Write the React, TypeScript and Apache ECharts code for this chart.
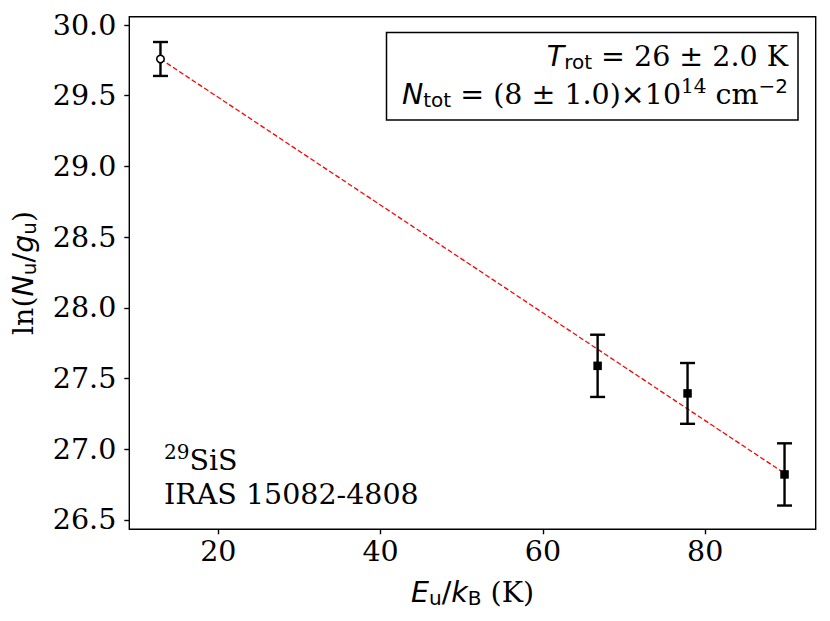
import React, { useEffect, useRef } from "react";
import * as echarts from "echarts";

// open-circle point
const circleX = [12.88];
const circleY = [29.76];
const circleErr = [0.12];
// filled-square points
const squareX = [66.74, 77.82, 89.77];
const squareY = [27.59, 27.395, 26.822];
const squareErr = [0.22, 0.215, 0.22];
// fit line end points
const fitX = [12.88, 89.77];
const fitY = [29.76, 26.83];
// tick labels
const xTicks = [20, 40, 60, 80];
const yTicks = [26.5, 27.0, 27.5, 28.0, 28.5, 29.0, 29.5, 30.0];

const SERIF = "DejaVu Serif";
const SANS = "DejaVu Sans";
const FS = 28.5;
const SFS = 20;

export default function App() {
  const ref = useRef<HTMLDivElement>(null);
  useEffect(() => {
    const chart = echarts.init(ref.current!, null, { renderer: "svg" });
    const errData = [
      ...circleX.map((x, i) => [x, circleY[i], circleErr[i]]),
      ...squareX.map((x, i) => [x, squareY[i], squareErr[i]]),
    ];
    const rich = {
      s: { fontFamily: SERIF, fontSize: FS, color: "#000" },
      i: { fontFamily: SANS, fontStyle: "italic", fontSize: FS, color: "#000" },
      m: { fontFamily: SANS, fontSize: FS, color: "#000" },
      sub: { fontFamily: SANS, fontSize: SFS, color: "#000", padding: [12, 0, 0, 0] },
      sup: { fontFamily: SERIF, fontSize: SFS, color: "#000", padding: [0, 0, 16, 0] },
      supm: { fontFamily: SANS, fontSize: SFS, color: "#000", padding: [0, 0, 16, 0] },
    };
    chart.setOption({
      animation: false,
      backgroundColor: "#fff",
      grid: {
        left: 129.3,
        right: 14.3,
        top: 16.7,
        bottom: 91.7,
        show: true,
        borderColor: "#000",
        borderWidth: 1.4,
        backgroundColor: "transparent",
      },
      xAxis: {
        type: "value",
        min: 9.04,
        max: 93.61,
        splitLine: { show: false },
        axisLine: { show: false },
        axisTick: {
          show: true,
          length: 5,
          inside: false,
          customValues: xTicks,
          lineStyle: { color: "#000", width: 1.4 },
        },
        axisLabel: {
          customValues: xTicks,
          fontFamily: SERIF,
          fontSize: FS,
          color: "#000",
          margin: 8,
          formatter: (v: number) => String(v),
        },
        name: "{i|E}{sub|u}{m|/}{i|k}{sub|B}{s| (K)}",
        nameLocation: "middle",
        nameGap: 47,
        nameTextStyle: { rich },
      },
      yAxis: {
        type: "value",
        min: 26.434,
        max: 30.059,
        splitLine: { show: false },
        axisLine: { show: false },
        axisTick: {
          show: true,
          length: 5,
          inside: false,
          customValues: yTicks,
          lineStyle: { color: "#000", width: 1.4 },
        },
        axisLabel: {
          customValues: yTicks,
          fontFamily: SERIF,
          fontSize: FS,
          color: "#000",
          margin: 13,
          formatter: (v: number) => v.toFixed(1),
        },
        name: "{s|ln(}{i|N}{sub|u}{m|/}{i|g}{sub|u}{s|)}",
        nameLocation: "middle",
        nameGap: 90,
        nameRotate: 90,
        nameTextStyle: { rich },
      },
      graphic: [
        {
          type: "rect",
          shape: { x: 386.5, y: 32.5, width: 411.5, height: 87.5 },
          style: { fill: "#fff", stroke: "#000", lineWidth: 1.5 },
          z: 100,
        },
        {
          type: "text",
          z: 101,
          style: {
            x: 788,
            y: 56,
            text: "{i|T}{sub|rot}{m| = }{s|26 ± 2.0 K}",
            rich,
            align: "right",
            verticalAlign: "middle",
          },
        },
        {
          type: "text",
          z: 101,
          style: {
            x: 788,
            y: 94,
            text: "{i|N}{sub|tot}{m| = }{s|(8 ± 1.0)}{m|×}{s|10}{sup|14}{s| cm}{supm|−2}",
            rich,
            align: "right",
            verticalAlign: "middle",
          },
        },
        {
          type: "text",
          z: 101,
          style: {
            x: 164,
            y: 460,
            text: "{sup|29}{s|SiS}",
            rich,
            align: "left",
            verticalAlign: "middle",
          },
        },
        {
          type: "text",
          z: 101,
          style: {
            x: 164,
            y: 494,
            text: "IRAS 15082-4808",
            fontFamily: SERIF,
            fontSize: FS,
            fill: "#000",
            align: "left",
            verticalAlign: "middle",
          },
        },
      ],
      series: [
        {
          type: "line",
          data: fitX.map((x, i) => [x, fitY[i]]),
          showSymbol: false,
          symbol: "none",
          lineStyle: { color: "#ff0000", width: 1.3, type: [5, 2.5] },
          z: 1,
        },
        {
          type: "custom",
          data: errData,
          encode: { x: 0, y: 1 },
          z: 2,
          clip: false,
          renderItem: (params: any, api: any) => {
            const x = api.value(0);
            const y = api.value(1);
            const e = api.value(2);
            const top = api.coord([x, y + e]);
            const bot = api.coord([x, y - e]);
            const cap = 7.5;
            const st = { stroke: "#000", lineWidth: 2.4 };
            return {
              type: "group",
              children: [
                { type: "line", shape: { x1: top[0], y1: top[1], x2: bot[0], y2: bot[1] }, style: st },
                { type: "line", shape: { x1: top[0] - cap, y1: top[1], x2: top[0] + cap, y2: top[1] }, style: st },
                { type: "line", shape: { x1: bot[0] - cap, y1: bot[1], x2: bot[0] + cap, y2: bot[1] }, style: st },
              ],
            };
          },
        },
        {
          type: "scatter",
          data: squareX.map((x, i) => [x, squareY[i]]),
          symbol: "rect",
          symbolSize: 8.5,
          itemStyle: { color: "#000", opacity: 1 },
          z: 3,
        },
        {
          type: "scatter",
          data: circleX.map((x, i) => [x, circleY[i]]),
          symbol: "circle",
          symbolSize: 7.5,
          itemStyle: { color: "#fff", borderColor: "#000", borderWidth: 1.6, opacity: 1 },
          z: 3,
        },
      ],
    });
    return () => chart.dispose();
  }, []);
  return (
    <div
      ref={ref}
      style={{ position: "absolute", left: 0, top: 0, width: 830, height: 621 }}
    />
  );
}
